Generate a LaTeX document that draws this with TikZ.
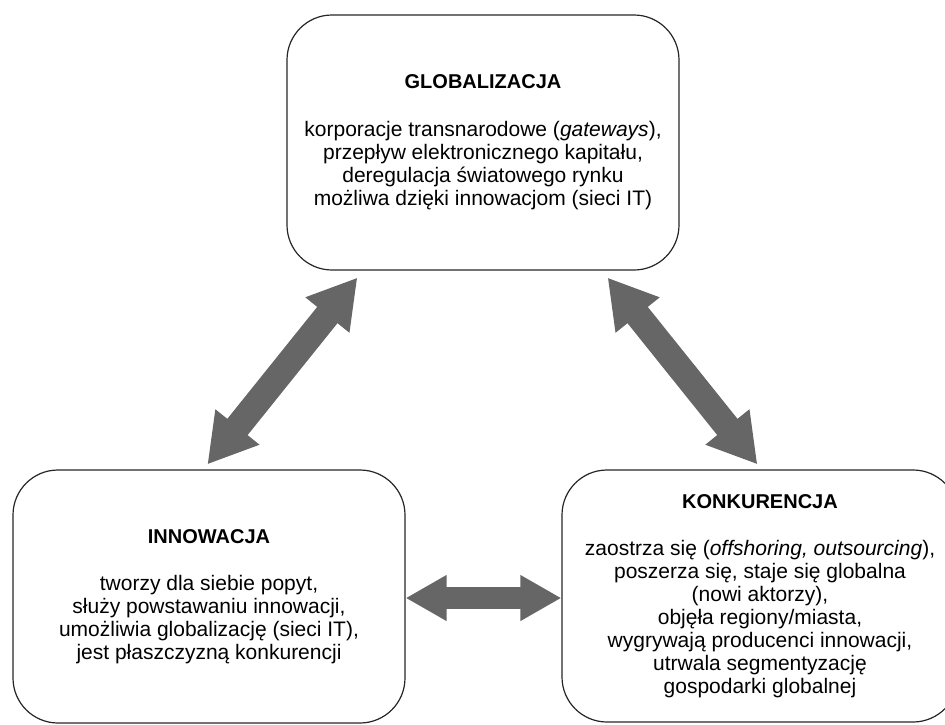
\documentclass[tikz,border=0pt]{standalone}
\usepackage{fontspec}
\setmainfont{Liberation Sans}
\usetikzlibrary{arrows.meta,calc}
\definecolor{arrowgray}{HTML}{666666}
\begin{document}
\begin{tikzpicture}[x=1pt,y=-1pt,
  box/.style={draw=black!85, line width=1.2pt, rounded corners=45pt, align=center,
    inner sep=0pt, font=\fontsize{21}{23}\selectfont},
  diagarrow/.style={draw=arrowgray, line width=26pt,
    {Triangle[length=48pt,width=53pt]}-{Triangle[length=48pt,width=53pt]}},
  horarrow/.style={draw=arrowgray, line width=22pt,
    {Triangle[length=41pt,width=43pt]}-{Triangle[length=41pt,width=43pt]}}
]
\useasboundingbox (0,0) rectangle (945,724);
\newcommand{\hd}[1]{{\fontsize{20}{23}\selectfont\bfseries #1}}

\node[box, minimum width=392pt, minimum height=255pt] (glob) at (483,142.5)
  {\hd{GLOBALIZACJA}\\[25pt]
   korporacje transnarodowe (\textit{gateways}),\\
   przepływ elektronicznego kapitału,\\
   deregulacja światowego rynku\\
   możliwa dzięki innowacjom (sieci IT)};

\node[box, minimum width=392pt, minimum height=253pt] (inno) at (209,596.5)
  {\hd{INNOWACJA}\\[24pt]
   tworzy dla siebie popyt,\\
   służy powstawaniu innowacji,\\
   umożliwia globalizację (sieci IT),\\
   jest płaszczyzną konkurencji};

\node[box, minimum width=396pt, minimum height=252pt] (konk) at (760,596)
  {\hd{KONKURENCJA}\\[24pt]
   zaostrza się (\textit{offshoring, outsourcing}),\\
   poszerza się, staje się globalna\\
   (nowi aktorzy),\\
   objęła regiony/miasta,\\
   wygrywają producenci innowacji,\\
   utrwala segmentyzację\\
   gospodarki globalnej};

\coordinate (gl) at ($(glob.south west)+(71,7)$);
\coordinate (il) at ($(inno.north west)+(195,-5)$);
\coordinate (gr) at ($(glob.south east)+(-72,7)$);
\coordinate (kr) at ($(konk.north west)+(196,-5)$);

\draw[diagarrow] (gl) -- (il);
\draw[diagarrow] (gr) -- (kr);
\draw[horarrow] (inno.east |- 0,598) -- (konk.west |- 0,598);
\end{tikzpicture}
\end{document}
